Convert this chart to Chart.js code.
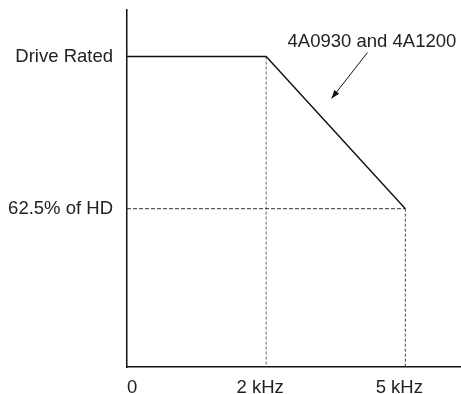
<!DOCTYPE html>
<html>
<head>
<meta charset="utf-8">
<script src="https://cdn.jsdelivr.net/npm/chart.js@4"></script>
<style>
  html, body { margin: 0; padding: 0; background: #fff; }
  #wrap { width: 461px; height: 394px; position: relative; }
</style>
</head>
<body>
<div id="wrap"><canvas id="derateChart"></canvas></div>
<script>
// carrier frequency positions on the x axis and their labels
const freqPos = [0, 1, 2];
const freqLabels = ["0", "2 kHz", "5 kHz"];
// output current level at each frequency (drive rated = 100)
const currentLevel = [100, 100, 51];
const levelTicks = [51, 100];
const levelLabels = ["62.5% of HD", "Drive Rated"];
const seriesName = "4A0930 and 4A1200";

const FONT = { family: "'Liberation Sans', Arial, sans-serif", size: 18.5 };

const curve = freqPos.map((x, i) => ({ x: x, y: currentLevel[i] }));
const lowLevel = currentLevel[currentLevel.length - 1];

// callout text + arrow, placed in data units
const calloutPlugin = {
  id: "callout",
  beforeDraw(chart) {
    // the "0" label sits to the right of the origin, not centred on it
    const xs = chart.scales.x;
    const items = xs.getLabelItems(chart.chartArea);
    if (items.length) {
      items[0].options.textAlign = "left";
      items[0].options.translation[0] = xs.left;
    }
  },
  afterDatasetsDraw(chart) {
    const { ctx, scales } = chart;
    const xs = scales.x, ys = scales.y;
    ctx.save();
    ctx.fillStyle = "#222";
    ctx.font = FONT.size + "px " + FONT.family;
    ctx.textAlign = "center";
    ctx.textBaseline = "alphabetic";
    ctx.fillText(seriesName, xs.getPixelForValue(1.76), ys.getPixelForValue(103));

    const x1 = xs.getPixelForValue(1.728), y1 = ys.getPixelForValue(101.3);
    const x2 = xs.getPixelForValue(1.47), y2 = ys.getPixelForValue(86.5);
    ctx.strokeStyle = "#111";
    ctx.lineWidth = 1;
    ctx.beginPath();
    ctx.moveTo(x1, y1);
    ctx.lineTo(x2, y2);
    ctx.stroke();
    const ang = Math.atan2(y2 - y1, x2 - x1);
    const len = 9, spread = 0.35;
    ctx.fillStyle = "#111";
    ctx.beginPath();
    ctx.moveTo(x2, y2);
    ctx.lineTo(x2 - len * Math.cos(ang - spread), y2 - len * Math.sin(ang - spread));
    ctx.lineTo(x2 - len * Math.cos(ang + spread), y2 - len * Math.sin(ang + spread));
    ctx.closePath();
    ctx.fill();
    ctx.restore();
  }
};

new Chart(document.getElementById("derateChart"), {
  type: "line",
  data: {
    datasets: [
      {
        label: seriesName,
        data: curve,
        borderColor: "#111",
        borderWidth: 1.4,
        pointRadius: 0,
        tension: 0,
        order: 0
      },
      {
        label: "hd level",
        data: [{ x: freqPos[0], y: lowLevel }, { x: freqPos[2], y: lowLevel }],
        borderColor: "#333",
        borderWidth: 1,
        borderDash: [4, 2],
        pointRadius: 0,
        order: 1
      },
      {
        label: "2k drop",
        data: [{ x: freqPos[1], y: currentLevel[1] }, { x: freqPos[1], y: 0 }],
        borderColor: "#666",
        borderWidth: 1,
        borderDash: [3, 2],
        pointRadius: 0,
        order: 1
      },
      {
        label: "5k drop",
        data: [{ x: freqPos[2], y: currentLevel[2] }, { x: freqPos[2], y: 0 }],
        borderColor: "#444",
        borderWidth: 1,
        borderDash: [3, 2],
        pointRadius: 0,
        order: 1
      }
    ]
  },
  options: {
    responsive: true,
    maintainAspectRatio: false,
    animation: false,
    layout: { padding: { top: 10, left: 0, right: 0, bottom: 0 } },
    plugins: {
      legend: { display: false },
      tooltip: { enabled: false }
    },
    scales: {
      x: {
        type: "linear",
        min: 0,
        max: 2.4,
        grid: { display: false, drawTicks: false },
        border: { display: true, color: "#111", width: 1.5 },
        afterBuildTicks: (scale) => {
          scale.ticks = freqPos.map(v => ({ value: v }));
        },
        afterFit: (scale) => {
          scale.height = 27;
          scale.paddingLeft = 0;
          scale.paddingRight = 0;
        },
        ticks: {
          autoSkip: false,
          maxRotation: 0,
          padding: 10,
          labelOffset: -6,
          color: "#222",
          font: FONT,
          callback: (v) => freqLabels[freqPos.indexOf(v)]
        }
      },
      y: {
        min: 0,
        max: 115,
        grid: { display: false, drawTicks: false },
        border: { display: true, color: "#111", width: 1.5 },
        afterBuildTicks: (scale) => {
          scale.ticks = levelTicks.map(v => ({ value: v }));
        },
        afterFit: (scale) => {
          scale.width = 127;
          scale.paddingTop = 0;
          scale.paddingBottom = 0;
        },
        ticks: {
          padding: 14,
          color: "#222",
          font: FONT,
          callback: (v) => levelLabels[levelTicks.indexOf(v)]
        }
      }
    }
  },
  plugins: [calloutPlugin]
});
</script>
</body>
</html>
